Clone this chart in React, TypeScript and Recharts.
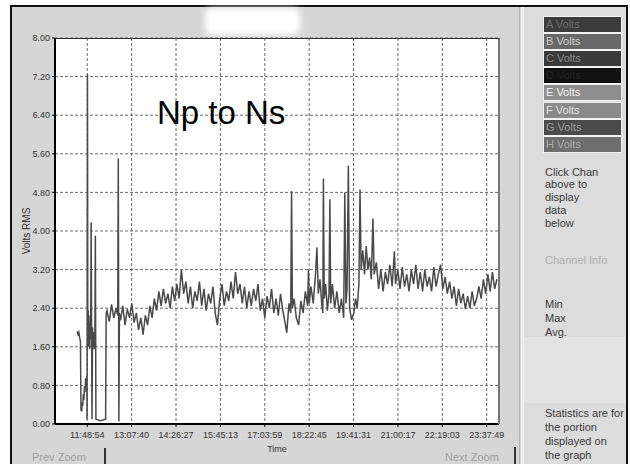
import { LineChart, Line, XAxis, YAxis, CartesianGrid } from "recharts";

const FONT = '"Liberation Sans", Arial, sans-serif';

// tick labels as printed on the time axis
const timeLabels = [
  "11:48:54", "13:07:40", "14:26:27", "15:45:13", "17:03:59",
  "18:22:45", "19:41:31", "21:00:17", "22:19:03", "23:37:49",
];
const voltTicks = [0, 0.8, 1.6, 2.4, 3.2, 4, 4.8, 5.6, 6.4, 7.2, 8];

// [minutes since midnight, volts RMS] - start-up / disturbance section
const startup: [number, number][] = [
  [690.9, 1.92], [692.5, 1.86], [694, 1.9], [695.5, 1.78], [696.8, 1.72],
  [697.8, 0.3], [699, 0.26], [700, 0.45], [701, 0.38], [702, 0.62],
  [703, 0.5], [704, 0.78], [705, 0.66], [706, 0.95], [707, 0.82],
  [708, 1.0], [708.6, 0.1], [709.3, 7.25], [709.9, 1.95], [710.7, 2.35],
  [711.5, 1.6], [712.3, 2.1], [713.1, 1.55], [714, 2.25], [714.9, 1.75],
  [715.8, 4.18], [716.7, 1.8], [717.4, 0.1], [718.3, 2.0], [719.2, 1.6],
  [720.2, 1.9], [721.2, 1.55], [722.4, 1.75], [723.3, 3.9], [724.3, 0.1],
  [732, 0.07], [741.5, 0.1], [742.5, 2.3],
];

// [minutes since midnight, volts RMS] - steady logging
const trace: [number, number][] = [
  [744, 2.35], [748, 2.12], [752, 2.48], [756, 2.2], [760, 2.4], [763, 2.25],
  [764, 5.5], [765, 0.05], [766, 2.3], [768, 2.15], [772, 2.45], [776, 2.05],
  [780, 2.38], [784, 2.2], [788, 2.5], [792, 2.1], [796, 2.3], [800, 1.95],
  [804, 2.2], [808, 1.85], [812, 2.25], [816, 2.05], [820, 2.45], [824, 2.2],
  [828, 2.6], [832, 2.35], [836, 2.75], [840, 2.45], [844, 2.8], [848, 2.5],
  [852, 2.7], [856, 2.4], [860, 2.85], [864, 2.55], [868, 2.9], [872, 2.6],
  [876, 3.2], [880, 2.7], [884, 2.95], [888, 2.5], [892, 2.85], [896, 2.4],
  [900, 2.75], [904, 2.55], [908, 2.95], [912, 2.45], [916, 2.8], [920, 2.35],
  [924, 2.7], [928, 2.5], [932, 2.85], [936, 2.3], [940, 2.05], [944, 2.6],
  [948, 2.9], [952, 2.45], [956, 2.75], [960, 2.55], [964, 2.95], [968, 2.6],
  [972, 3.15], [976, 2.7], [980, 2.9], [984, 2.5], [988, 2.85], [992, 2.4],
  [996, 2.75], [1000, 2.45], [1004, 2.8], [1008, 2.55], [1012, 2.9], [1016, 2.35],
  [1020, 2.6], [1024, 2.2], [1028, 2.65], [1032, 2.4], [1036, 2.8], [1040, 2.3],
  [1044, 2.6], [1048, 2.25], [1052, 2.7], [1056, 2.35], [1060, 2.1], [1063, 1.89],
  [1067, 2.5], [1070, 2.3], [1071.5, 4.83], [1073, 2.4], [1076, 2.6], [1080, 2.2],
  [1084, 2.05], [1088, 2.55], [1092, 2.3], [1096, 2.75], [1100, 2.45], [1101.5, 3.2],
  [1103, 2.5], [1106, 2.85], [1110, 2.5], [1114, 3.1], [1116.5, 3.66], [1119, 2.7],
  [1122, 3.0], [1125, 2.5], [1127, 2.3], [1128, 5.09], [1129.5, 2.6], [1132, 2.9],
  [1135, 2.35], [1138, 2.7], [1139.5, 4.66], [1141, 2.5], [1144, 2.9], [1148, 2.4],
  [1152, 2.75], [1156, 2.3], [1160, 2.6], [1164, 2.2], [1166, 4.8], [1168, 2.5],
  [1170, 2.8], [1172.3, 5.35], [1174.5, 2.4], [1178, 2.16], [1182, 2.3], [1185, 2.6],
  [1188, 2.4], [1191, 2.9], [1193, 4.86], [1195, 3.2], [1198, 3.6], [1201, 3.1],
  [1204, 3.69], [1207, 3.2], [1210, 3.45], [1213, 3.0], [1216, 4.26], [1218, 3.1],
  [1222, 3.35], [1226, 2.8], [1230, 3.2], [1234, 2.75], [1238, 3.15], [1242, 2.9],
  [1246, 3.3], [1250, 2.85], [1254, 3.58], [1256, 2.9], [1260, 3.2], [1264, 2.8],
  [1268, 3.25], [1272, 2.85], [1276, 3.1], [1280, 2.75], [1284, 3.2], [1288, 2.9],
  [1292, 3.3], [1296, 2.8], [1300, 3.15], [1304, 2.75], [1308, 3.2], [1312, 2.85],
  [1316, 3.05], [1320, 2.75], [1324, 3.25], [1328, 2.85], [1332, 3.1], [1336, 3.3],
  [1340, 2.8], [1344, 3.05], [1348, 2.7], [1352, 2.95], [1356, 2.6], [1360, 2.85],
  [1364, 2.45], [1368, 2.8], [1372, 2.5], [1376, 2.7], [1380, 2.38], [1384, 2.65],
  [1388, 2.4], [1392, 2.75], [1396, 2.45], [1400, 2.6], [1404, 2.85], [1408, 2.6],
  [1412, 3.0], [1416, 2.7], [1420, 3.1], [1424, 2.75], [1428, 3.15], [1432, 2.8],
  [1436, 3.0],
];

const channels = ["A Volts", "B Volts", "C Volts", "D Volts", "E Volts", "F Volts", "G Volts", "H Volts"];
const channelColors = [
  ["#3c3c3c", "#6c6c6c"], ["#686868", "#cdcdcd"], ["#3a3a3a", "#8a8a8a"], ["#111111", "#222222"],
  ["#8e8e8e", "#f4f4f4"], ["#8a8a8a", "#e2e2e2"], ["#4a4a4a", "#9c9c9c"], ["#6e6e6e", "#acacac"],
];

const toSec = (s: string) => {
  const [h, m, x] = s.split(":").map(Number);
  return h * 3600 + m * 60 + x;
};
const pad = (n: number) => String(n).padStart(2, "0");
const fmtTime = (s: number) =>
  `${Math.floor(s / 3600)}:${pad(Math.floor((s % 3600) / 60))}:${pad(Math.round(s % 60))}`;

const xTicks = timeLabels.map(toSec);
const data = [...startup, ...trace].map(([m, v]) => ({ t: m * 60, v }));

const abs = (style: React.CSSProperties): React.CSSProperties => ({ position: "absolute", ...style });

export default function App() {
  return (
    <div style={abs({ left: 0, top: 0, width: 630, height: 464, overflow: "hidden", background: "#fff", fontFamily: FONT })}>
      {/* window frame */}
      <div style={abs({ left: 10, top: 5, width: 618, height: 470, boxSizing: "border-box", border: "2px solid #111", background: "#d6d6d6" })} />
      <div style={abs({ left: 519, top: 7, width: 1, height: 457, background: "#b4b4b4" })} />
      <div style={abs({ left: 521, top: 7, width: 3, height: 457, background: "#eeeeee" })} />

      {/* right panel */}
      <div style={abs({ left: 524, top: 7, width: 102, height: 457, background: "#dcdcdc", overflow: "hidden" })}>
        <div style={abs({ left: 0, top: 330, width: 102, height: 66, background: "#e3e3e3" })} />
        {channels.map((c, i) => (
          <div
            key={c}
            style={abs({
              left: 20, top: 10 + i * 17.1, width: 77, height: 15,
              background: channelColors[i][0], color: channelColors[i][1],
              outline: "1px solid #f2f2f2", fontSize: 11, lineHeight: "15px", paddingLeft: 2, boxSizing: "border-box",
            })}
          >
            {c}
          </div>
        ))}
        <div style={abs({ left: 21, top: 158.5, fontSize: 11, lineHeight: "12.8px", color: "#3a3a3a" })}>
          Click Chan<br />above to<br />display<br />data<br />below
        </div>
        <div style={abs({ left: 21, top: 246, fontSize: 11, lineHeight: "14px", color: "#b0b0b0" })}>Channel Info</div>
        <div style={abs({ left: 21, top: 290, fontSize: 11, lineHeight: "14px", color: "#3a3a3a" })}>
          Min<br />Max<br />Avg.
        </div>
        <div style={abs({ left: 21, top: 399, fontSize: 11, lineHeight: "14px", color: "#3a3a3a", whiteSpace: "nowrap" })}>
          Statistics are for<br />the portion<br />displayed on<br />the graph
        </div>
      </div>

      {/* blurred title */}
      <div style={abs({ left: 205, top: 8, width: 95, height: 27, background: "#fff", filter: "blur(3px)", borderRadius: 6 })} />

      {/* bottom buttons */}
      <div style={abs({ left: 32, top: 451, fontSize: 11, color: "#a0a0a0" })}>Prev Zoom</div>
      <div style={abs({ left: 104, top: 448, width: 2, height: 16, background: "#333" })} />
      <div style={abs({ left: 445, top: 451, fontSize: 11, color: "#a0a0a0" })}>Next Zoom</div>
      <div style={abs({ left: 514, top: 447, width: 2, height: 17, background: "#333" })} />

      <div style={abs({ left: 0, top: 0 })}>
        <LineChart width={520} height={464} data={data} margin={{ top: 38, right: 21, bottom: 0, left: 0 }}>
          <CartesianGrid stroke="#6a6a6a" strokeDasharray="3 2" fill="#ffffff" fillOpacity={1} />
          <XAxis
            type="number"
            dataKey="t"
            domain={[39100, 86380]}
            ticks={xTicks}
            interval={0}
            allowDataOverflow
            tickFormatter={fmtTime}
            tick={{ fontSize: 9, fill: "#333", fontFamily: FONT }}
            tickSize={3}
            tickMargin={5}
            tickLine={{ stroke: "#000" }}
            axisLine={{ stroke: "#000", strokeWidth: 2 }}
            height={40}
            label={{ value: "Time", position: "insideBottom", offset: 12, style: { fontSize: 9, fill: "#333", fontFamily: FONT } }}
          />
          <YAxis
            type="number"
            domain={[0, 8]}
            ticks={voltTicks}
            interval={0}
            allowDataOverflow
            tickFormatter={(v: number) => v.toFixed(2)}
            tick={{ fontSize: 9, fill: "#333", fontFamily: FONT }}
            tickSize={3}
            tickMargin={2}
            tickLine={{ stroke: "#000" }}
            axisLine={{ stroke: "#000", strokeWidth: 2 }}
            width={55}
          />
          <Line type="linear" dataKey="v" stroke="#4a4a4a" strokeWidth={1.5} dot={false} isAnimationActive={false} />
        </LineChart>
      </div>

      {/* plot frame top / right */}
      <div style={abs({ left: 55, top: 38, width: 445, height: 386, boxSizing: "border-box", borderTop: "1px solid #333", borderRight: "2px solid #777", pointerEvents: "none" })} />

      <div style={abs({ left: 26, top: 231, transform: "translate(-50%, -50%) rotate(-90deg)", fontSize: 10, color: "#333", whiteSpace: "nowrap" })}>
        Volts RMS
      </div>

      <div style={abs({ left: 157, top: 96, fontSize: 33, lineHeight: "33px", color: "#000", fontFamily: FONT })}>Np to Ns</div>
    </div>
  );
}
